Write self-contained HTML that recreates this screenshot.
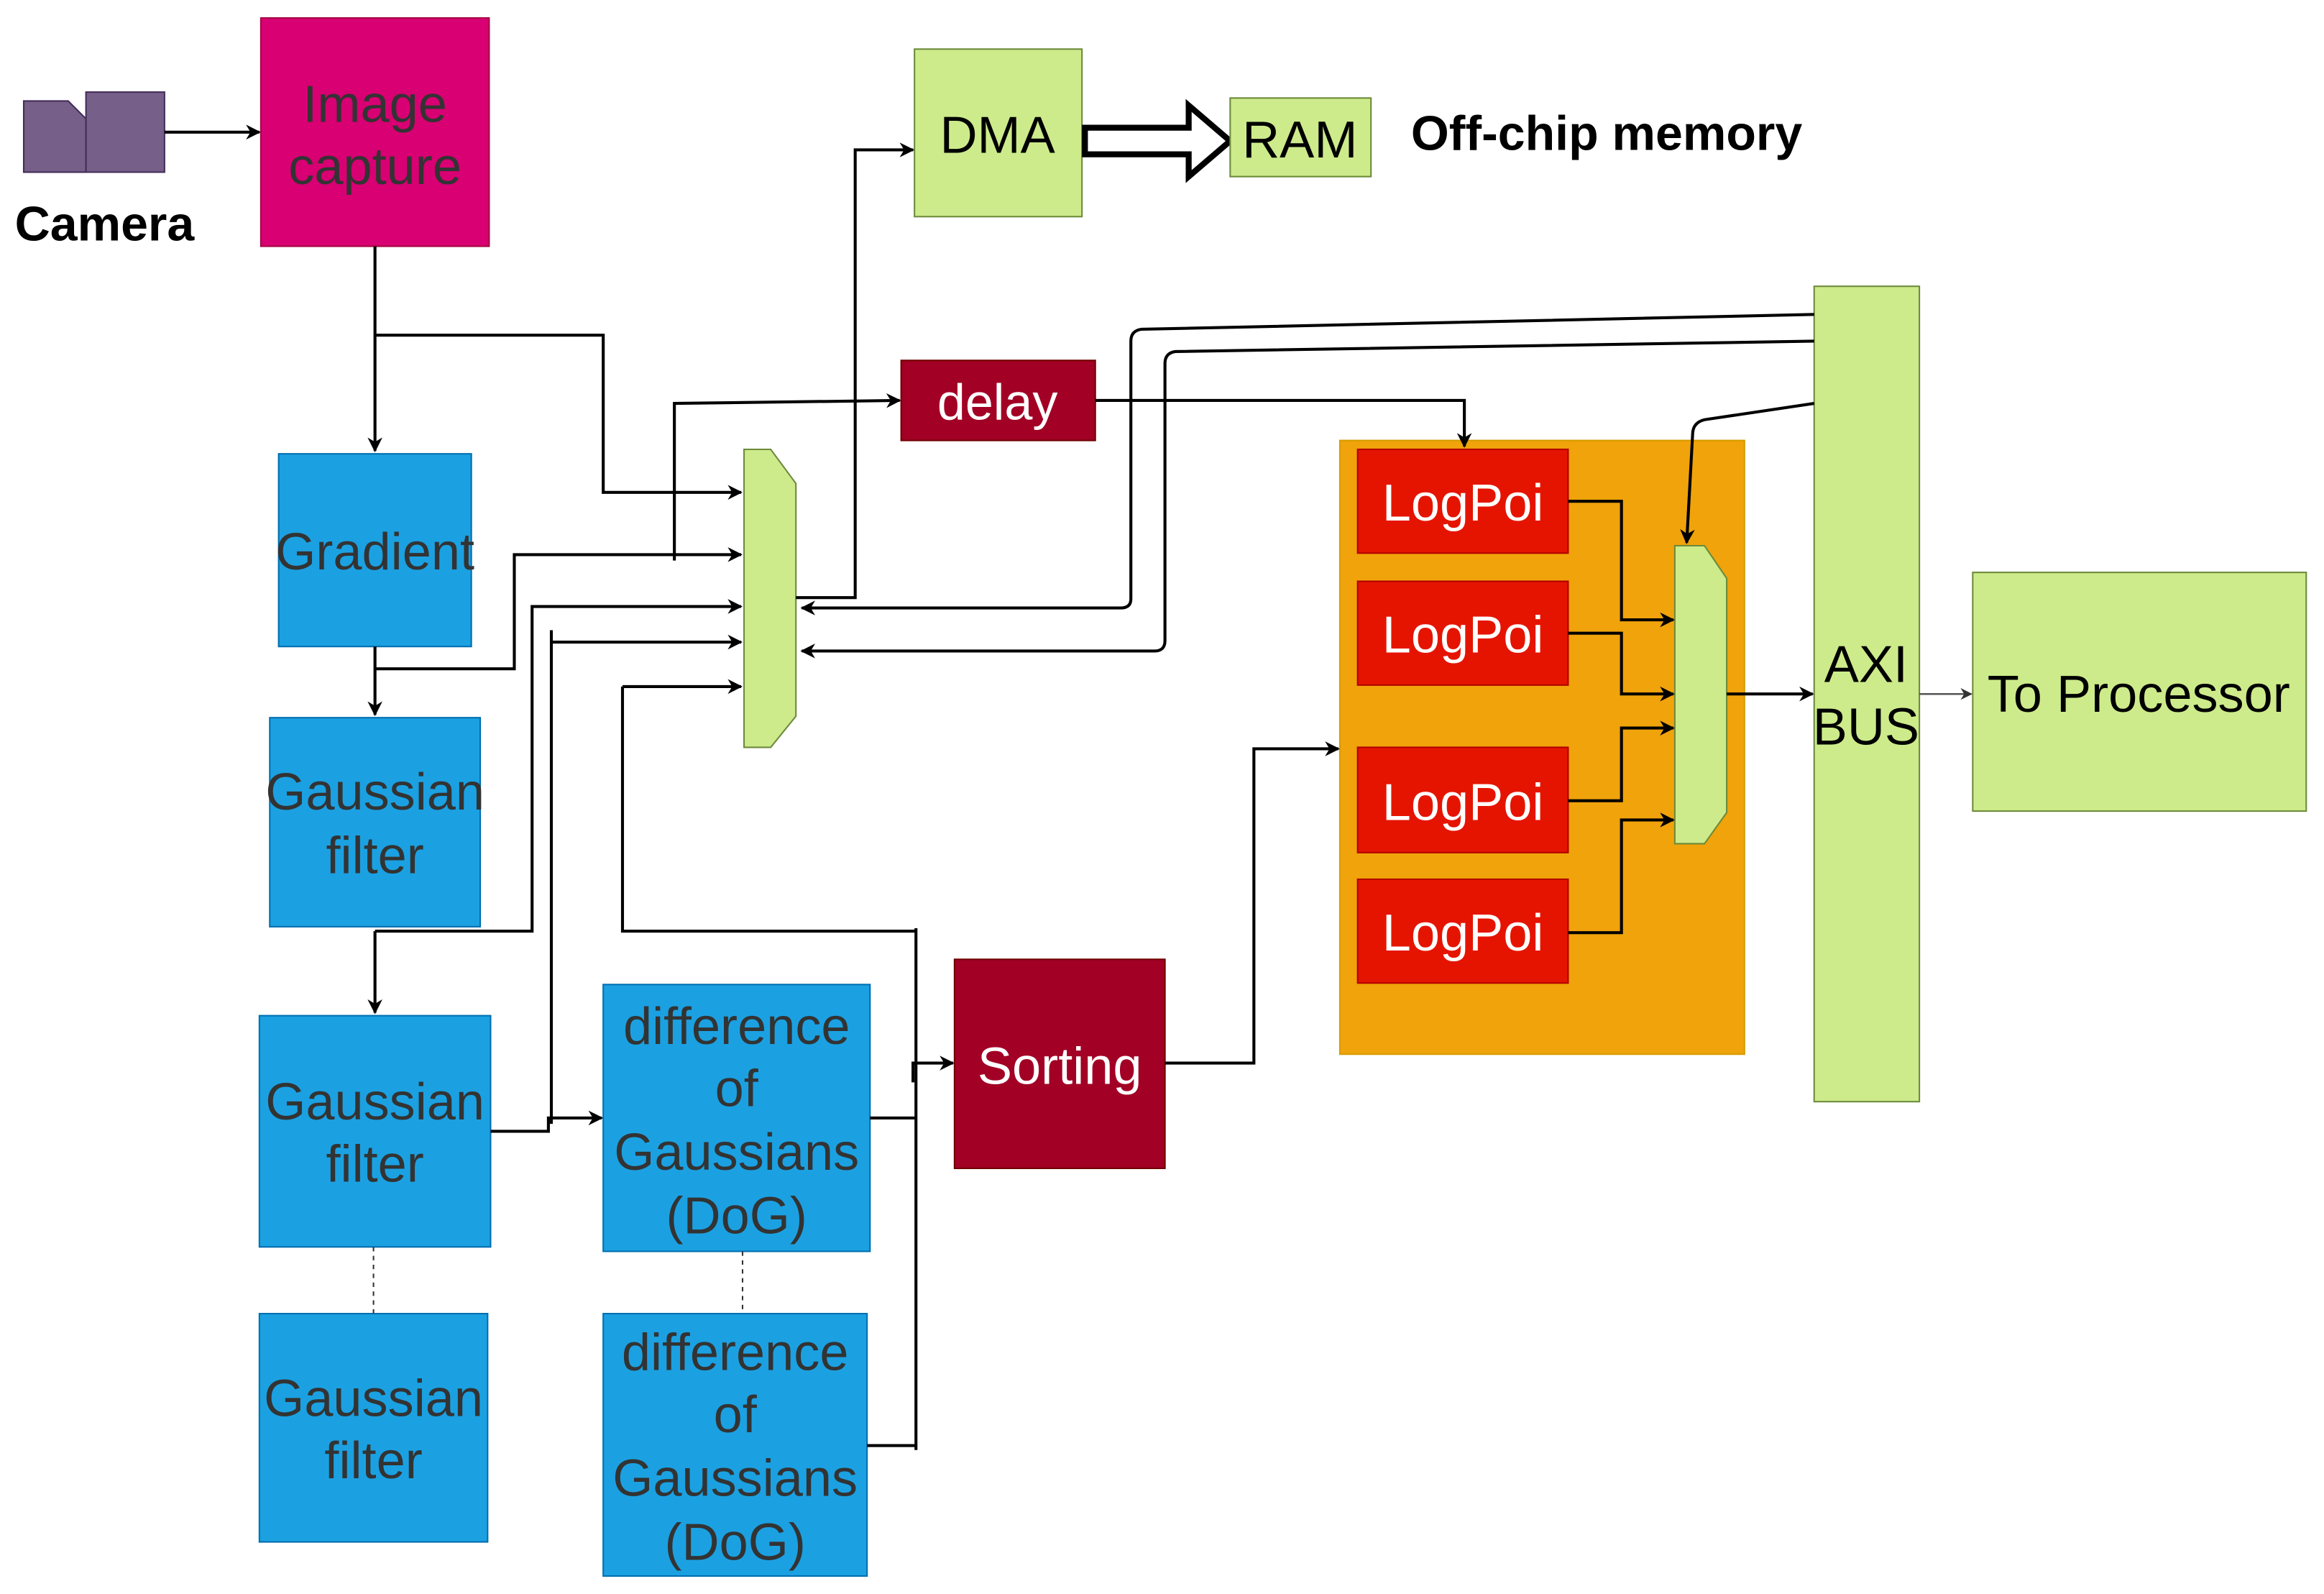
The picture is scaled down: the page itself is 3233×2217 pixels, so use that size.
<!DOCTYPE html>
<html><head><meta charset="utf-8"><style>
html,body{margin:0;padding:0;background:#fff;}
svg{display:block;}
text{font-family:"Liberation Sans",sans-serif;}
</style></head><body>
<svg width="3233" height="2217" viewBox="0 0 1568 1075" xmlns="http://www.w3.org/2000/svg">
<defs>
<marker id="a" viewBox="0 0 10 10" refX="9" refY="5" markerWidth="10" markerHeight="10" orient="auto" markerUnits="userSpaceOnUse"><path d="M0,0 L10,5 L0,10 L3,5 z" fill="#000"/></marker>
<marker id="b" viewBox="0 0 10 10" refX="9" refY="5" markerWidth="8" markerHeight="8" orient="auto" markerUnits="userSpaceOnUse"><path d="M0,0 L10,5 L0,10 L3,5 z" fill="#333"/></marker>
</defs>
<rect width="1568" height="1075" fill="#fff"/>
<polygon points="16,68 46,68 58,80 58,116 16,116" fill="#76608a" stroke="#432d57" stroke-width="1"/>
<rect x="58" y="62" width="53" height="54" fill="#76608a" stroke="#432d57" stroke-width="1"/>
<text x="10" y="162" font-size="33" font-weight="bold" fill="#000">Camera</text>
<rect x="176" y="12" width="154" height="154" fill="#d80073" stroke="#a50040"/>
<g font-size="35" fill="#333" text-anchor="middle">
<text x="253" y="82">Image</text><text x="253" y="124">capture</text>
</g>
<rect x="617" y="33" width="113" height="113" fill="#cdeb8b" stroke="#6c8a3a"/>
<text x="673" y="103" font-size="35" text-anchor="middle" fill="#000">DMA</text>
<polygon points="732,86 802,86 802,71 830,95 802,119 802,104 732,104" fill="#fff" stroke="#000" stroke-width="4"/>
<rect x="830" y="66" width="95" height="53" fill="#cdeb8b" stroke="#6c8a3a"/>
<text x="877" y="106" font-size="35" text-anchor="middle" fill="#000">RAM</text>
<text x="952" y="101" font-size="33" font-weight="bold" fill="#000">Off-chip memory</text>
<rect x="608" y="243" width="131" height="54" fill="#a20025" stroke="#6f0000"/>
<text x="673" y="283" font-size="34" text-anchor="middle" fill="#fff">delay</text>
<rect x="904" y="297" width="273" height="414" fill="#f0a30a" stroke="#d79b00"/>
<g fill="#e51400" stroke="#b20000">
<rect x="916" y="303" width="142" height="70"/><rect x="916" y="392" width="142" height="70"/>
<rect x="916" y="504" width="142" height="71"/><rect x="916" y="593" width="142" height="70"/>
</g>
<g font-size="35" fill="#fff" text-anchor="middle">
<text x="987" y="351">LogPoi</text><text x="987" y="440">LogPoi</text>
<text x="987" y="553">LogPoi</text><text x="987" y="641">LogPoi</text>
</g>
<polygon points="1130,368 1150,368 1165,390 1165,548 1150,569 1130,569" fill="#cdeb8b" stroke="#6c8a3a"/>
<polygon points="502,303 520,303 537,326 537,483 520,504 502,504" fill="#cdeb8b" stroke="#6c8a3a"/>
<rect x="1224" y="193" width="71" height="550" fill="#cdeb8b" stroke="#6c8a3a"/>
<g font-size="35" text-anchor="middle" fill="#000"><text x="1259" y="460">AXI</text><text x="1259" y="502">BUS</text></g>
<rect x="1331" y="386" width="225" height="161" fill="#cdeb8b" stroke="#6c8a3a"/>
<text x="1443" y="480" font-size="35" text-anchor="middle" fill="#000">To Processor</text>
<g fill="#1ba1e2" stroke="#006eaf">
<rect x="188" y="306" width="130" height="130"/>
<rect x="182" y="484" width="142" height="141"/>
<rect x="175" y="685" width="156" height="156"/>
<rect x="175" y="886" width="154" height="154"/>
<rect x="407" y="664" width="180" height="180"/>
<rect x="407" y="886" width="178" height="177"/>
</g>
<g font-size="35" fill="#333" text-anchor="middle">
<text x="253" y="384">Gradient</text>
<text x="253" y="546">Gaussian</text><text x="253" y="589">filter</text>
<text x="253" y="755">Gaussian</text><text x="253" y="797">filter</text>
<text x="252" y="955">Gaussian</text><text x="252" y="997">filter</text>
<text x="497" y="704">difference</text><text x="497" y="746">of</text><text x="497" y="789">Gaussians</text><text x="497" y="832">(DoG)</text>
<text x="496" y="924">difference</text><text x="496" y="966">of</text><text x="496" y="1009">Gaussians</text><text x="496" y="1052">(DoG)</text>
</g>
<rect x="644" y="647" width="142" height="141" fill="#a20025" stroke="#6f0000"/>
<text x="715" y="731" font-size="35" text-anchor="middle" fill="#fff">Sorting</text>
<g stroke="#333" stroke-width="1" stroke-dasharray="3,3"><path d="M252,841 V886"/><path d="M501,844 V886"/></g>
<g fill="none" stroke="#000" stroke-width="2">
<path d="M111,89 H175" marker-end="url(#a)"/>
<path d="M253,166 V304" marker-end="url(#a)"/>
<path d="M253,226 H407 V332 H500" marker-end="url(#a)"/>
<path d="M253,436 V482" marker-end="url(#a)"/>
<path d="M253,451 H347 V374 H500" marker-end="url(#a)"/>
<path d="M455,378 V272 L607,270" marker-end="url(#a)"/>
<path d="M253,628 V683" marker-end="url(#a)"/>
<path d="M253,628 H359 V409 H500" marker-end="url(#a)"/>
<path d="M331,763 H370 V754 H406" marker-end="url(#a)"/>
<path d="M372,425 V758"/>
<path d="M372,433 H500" marker-end="url(#a)"/>
<path d="M420,463 V628 H618"/>
<path d="M420,463 H500" marker-end="url(#a)"/>
<path d="M618,626 V978"/>
<path d="M587,754 H618"/>
<path d="M585,975 H618"/>
<path d="M616,730 V717 H643" marker-end="url(#a)"/>
<path d="M537,403 H577 V101 H616" marker-end="url(#a)"/>
<path d="M1224,212 L770,222 Q763,223 763,230 V404 Q763,410 756,410 H541" marker-end="url(#a)"/>
<path d="M1224,230 L793,237 Q786,238 786,245 V432 Q786,439 779,439 H541" marker-end="url(#a)"/>
<path d="M739,270 H988 V301" marker-end="url(#a)"/>
<path d="M1224,272 L1150,283 Q1142,285 1142,293 L1138,366" marker-end="url(#a)"/>
<path d="M1058,338 H1094 V418 H1129" marker-end="url(#a)"/>
<path d="M1058,427 H1094 V468 H1129" marker-end="url(#a)"/>
<path d="M1058,540 H1094 V491 H1129" marker-end="url(#a)"/>
<path d="M1058,629 H1094 V553 H1129" marker-end="url(#a)"/>
<path d="M1165,468 H1223" marker-end="url(#a)"/>
<path d="M786,717 H846 V505 H903" marker-end="url(#a)"/>
</g>
<path d="M1295,468 H1330" stroke="#555" stroke-width="1.2" fill="none" marker-end="url(#b)"/>
</svg>
</body></html>
